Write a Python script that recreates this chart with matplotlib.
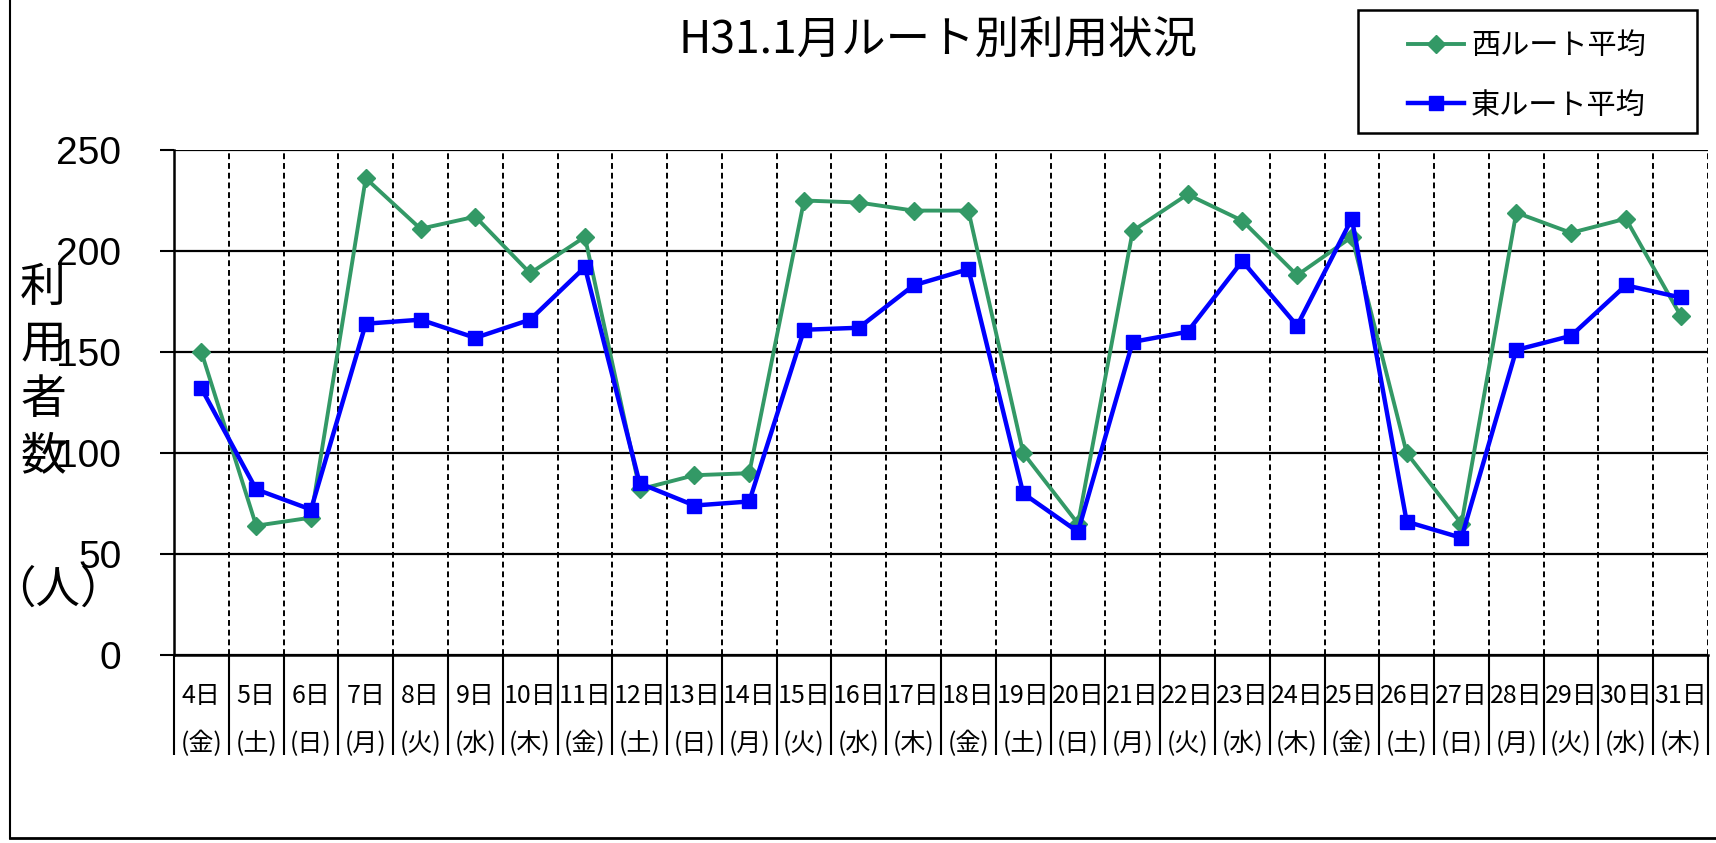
import numpy as np
import matplotlib
matplotlib.use("Agg")
import matplotlib.pyplot as plt
from matplotlib.lines import Line2D
from matplotlib.patches import Rectangle

plt.rcParams['font.family'] = ['Noto Sans CJK JP', 'DejaVu Sans']

# data
days = ["4日", "5日", "6日", "7日", "8日", "9日", "10日", "11日", "12日", "13日",
        "14日", "15日", "16日", "17日", "18日", "19日", "20日", "21日", "22日", "23日",
        "24日", "25日", "26日", "27日", "28日", "29日", "30日", "31日"]
weekdays = ["金", "土", "日", "月", "火", "水", "木", "金", "土", "日",
            "月", "火", "水", "木", "金", "土", "日", "月", "火", "水",
            "木", "金", "土", "日", "月", "火", "水", "木"]
west_avg = [150, 64, 68, 236, 211, 217, 189, 207, 82, 89,
            90, 225, 224, 220, 220, 100, 65, 210, 228, 215,
            188, 207, 100, 65, 219, 209, 216, 168]
east_avg = [132, 82, 72, 164, 166, 157, 166, 192, 85, 74,
            76, 161, 162, 183, 191, 80, 61, 155, 160, 195,
            163, 216, 66, 58, 151, 158, 183, 177]
yticks = [0, 50, 100, 150, 200, 250]

W, H = 1716, 843
fig = plt.figure(figsize=(W / 100, H / 100), dpi=100)
ax = fig.add_axes([174 / W, 1 - 655 / H, (1708 - 174) / W, (655 - 150) / H])

x = np.arange(len(days))
green = "#339966"
blue = "#0000FF"
ax.plot(x, west_avg, color=green, lw=2.8, marker="D", ms=9, label="西ルート平均", zorder=3)
ax.plot(x, east_avg, color=blue, lw=3.2, marker="s", ms=10, label="東ルート平均", zorder=4)

ax.set_xlim(-0.5, len(days) - 0.5)
ax.set_ylim(0, 250)

# y axis
ax.set_yticks(yticks)
ax.tick_params(axis="y", length=10, width=1.5, pad=28, labelsize=28, direction="out")
for lab in ax.get_yticklabels():
    lab.set_fontfamily("Liberation Sans")
ax.yaxis.grid(True, color="black", lw=1.6)

# x axis: labels at centers, separators at boundaries
ax.set_xticks(x)
ax.set_xticklabels([f"{d}\n({w})" for d, w in zip(days, weekdays)], fontsize=18, linespacing=2.1)
ax.tick_params(axis="x", which="major", length=0, pad=20)
ax.set_xticks(np.arange(-0.5, len(days)), minor=True)
ax.tick_params(axis="x", which="minor", length=72, width=1.5, direction="out")
ax.xaxis.grid(True, which="minor", color="black", lw=1.4, ls=(0, (3, 2)))
ax.set_axisbelow(True)

for s in ["top", "right"]:
    ax.spines[s].set_visible(False)
for s in ["left", "bottom"]:
    ax.spines[s].set_linewidth(1.8)

# title
fig.text(938 / W, 1 - 40 / H, "H31.1月ルート別利用状況", fontsize=32, ha="center", va="center")

# y axis title
fig.text(43 / W, 1 - 372 / H, "利\n用\n者\n数", fontsize=33, ha="center", va="center", linespacing=1.2)
fig.text(58 / W, 1 - 590 / H, "（人）", fontsize=32, ha="center", va="center")

# legend with its own frame
fig.patches.append(Rectangle((1358 / W, 1 - 133 / H), (1697 - 1358) / W, (133 - 10) / H,
                             transform=fig.transFigure, fill=False, ec="black", lw=1.8))
fig.legend(loc="center", bbox_to_anchor=(1527 / W, 1 - 76 / H), frameon=False,
           fontsize=21, handlelength=1.9, handletextpad=0.25, labelspacing=1.0)

# outer chart border (left and bottom visible)
fig.add_artist(Line2D([10 / W, 10 / W], [1 - 838 / H, 1], transform=fig.transFigure, color="black", lw=1.5))
fig.add_artist(Line2D([10 / W, 1], [1 - 838 / H, 1 - 838 / H], transform=fig.transFigure, color="black", lw=2))

fig.savefig("out.png", dpi=100)
